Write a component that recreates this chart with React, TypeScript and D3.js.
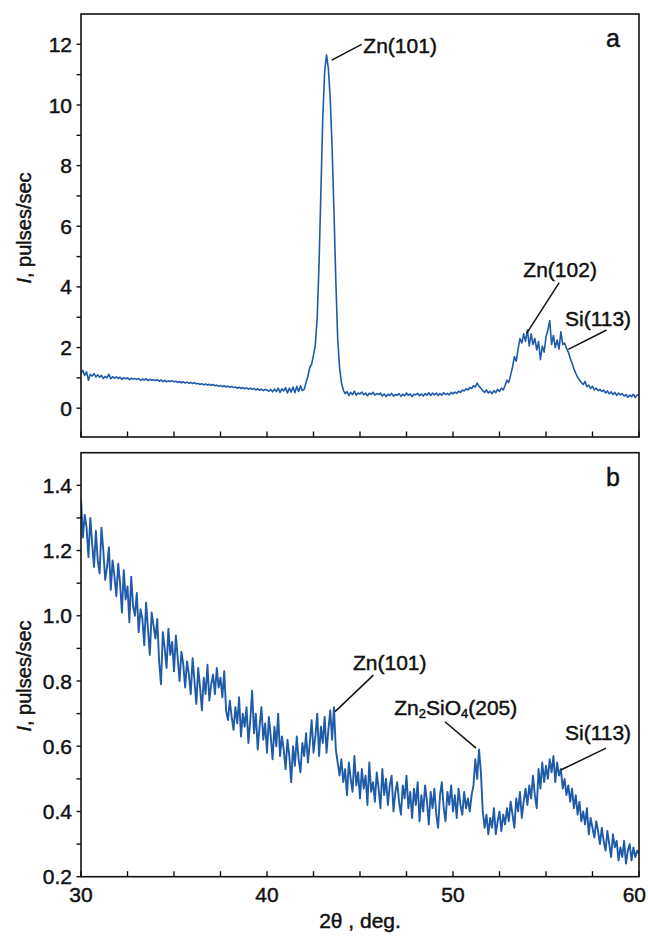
import React from "react";
import * as d3 from "d3";

// XRD patterns, 2θ from 30 to 60 deg, step 0.1
const X_START = 30;
const X_STEP = 0.1;

const panelAValues = [
  1.16, 1.25, 1.08, 1.20, 0.92, 1.12, 1.06, 1.14, 1.03, 1.10,
  1.02, 1.08, 0.98, 1.05, 1.00, 1.12, 0.97, 1.04, 0.99, 1.03,
  0.98, 1.02, 0.95, 1.01, 0.97, 1.00, 0.94, 0.99, 0.96, 0.98,
  0.95, 0.98, 0.92, 0.96, 0.93, 0.97, 0.91, 0.95, 0.92, 0.94,
  0.91, 0.94, 0.89, 0.93, 0.88, 0.92, 0.87, 0.90, 0.88, 0.91,
  0.87, 0.89, 0.85, 0.88, 0.84, 0.87, 0.83, 0.86, 0.82, 0.85,
  0.81, 0.84, 0.80, 0.82, 0.78, 0.81, 0.77, 0.80, 0.76, 0.79,
  0.75, 0.78, 0.74, 0.76, 0.72, 0.75, 0.71, 0.74, 0.70, 0.73,
  0.69, 0.72, 0.68, 0.70, 0.66, 0.69, 0.65, 0.68, 0.64, 0.67,
  0.63, 0.66, 0.62, 0.65, 0.60, 0.64, 0.59, 0.63, 0.58, 0.62,
  0.60, 0.56, 0.62, 0.54, 0.63, 0.55, 0.66, 0.52, 0.64, 0.57,
  0.68, 0.50, 0.66, 0.53, 0.70, 0.51, 0.72, 0.55, 0.74, 0.58,
  0.62, 0.85, 1.05, 1.35, 1.45, 1.75, 2.10, 3.00, 4.80, 7.20,
  9.60, 11.10, 11.65, 11.20, 10.20, 8.60, 6.50, 4.20, 2.30, 1.35,
  0.85, 0.60, 0.48, 0.55, 0.42, 0.52, 0.45, 0.56, 0.43, 0.50,
  0.47, 0.53, 0.44, 0.50, 0.41, 0.49, 0.46, 0.52, 0.43, 0.48,
  0.45, 0.50, 0.40, 0.47, 0.38, 0.46, 0.42, 0.49, 0.40, 0.45,
  0.43, 0.48, 0.39, 0.46, 0.41, 0.50, 0.42, 0.47, 0.38, 0.46,
  0.44, 0.49, 0.41, 0.47, 0.40, 0.48, 0.43, 0.51, 0.42, 0.50,
  0.44, 0.50, 0.42, 0.48, 0.43, 0.51, 0.45, 0.49, 0.44, 0.52,
  0.47, 0.53, 0.49, 0.56, 0.52, 0.60, 0.57, 0.64, 0.60, 0.68,
  0.65, 0.74, 0.70, 0.83, 0.72, 0.66, 0.58, 0.52, 0.60, 0.50,
  0.56, 0.48, 0.58, 0.51, 0.62, 0.55, 0.66, 0.60, 0.75, 0.92,
  0.85, 1.10, 1.35, 1.70, 1.55, 1.95, 2.30, 2.15, 2.45, 2.20,
  2.58, 2.05, 2.45, 2.10, 2.30, 1.92, 2.20, 1.60, 2.05, 1.85,
  2.35, 2.58, 2.89, 2.10, 2.40, 2.00, 2.25, 1.95, 2.52, 2.10,
  2.15, 1.98, 1.85, 1.65, 1.48, 1.30, 1.15, 1.02, 0.93, 0.85,
  0.78, 0.88, 0.71, 0.76, 0.65, 0.72, 0.60, 0.66, 0.58, 0.62,
  0.55, 0.60, 0.50, 0.57, 0.47, 0.54, 0.45, 0.52, 0.42, 0.50,
  0.44, 0.48, 0.40, 0.45, 0.36, 0.43, 0.38, 0.46, 0.35, 0.44,
  0.42,
];

const panelBValues = [
  1.36, 1.24, 1.31, 1.27, 1.18, 1.30, 1.22, 1.15, 1.26, 1.17,
  1.13, 1.27, 1.20, 1.11, 1.15, 1.21, 1.08, 1.17, 1.12, 1.06,
  1.16, 1.10, 1.01, 1.14, 1.05, 1.09, 0.98, 1.12, 1.03, 1.00,
  1.07, 0.95, 1.02, 0.99, 0.91, 1.04, 0.96, 0.88, 1.01, 0.97,
  0.93, 0.99, 0.86, 0.79, 0.95, 0.90, 0.84, 0.96, 0.88, 0.92,
  0.83, 0.94, 0.87, 0.80, 0.89, 0.85, 0.78, 0.86, 0.82, 0.76,
  0.87, 0.80, 0.73, 0.84, 0.78, 0.71, 0.81, 0.76, 0.85, 0.74,
  0.79, 0.82, 0.76, 0.84, 0.78, 0.81, 0.75, 0.83, 0.71, 0.68,
  0.74, 0.69, 0.65, 0.72, 0.67, 0.75, 0.63, 0.70, 0.66, 0.72,
  0.61, 0.68, 0.77, 0.64, 0.70, 0.59, 0.66, 0.72, 0.62, 0.67,
  0.58, 0.69, 0.63, 0.56, 0.66, 0.60, 0.70, 0.57, 0.63, 0.59,
  0.53, 0.62, 0.57, 0.49, 0.60, 0.54, 0.63, 0.56, 0.52, 0.61,
  0.57, 0.64, 0.55, 0.61, 0.68, 0.58, 0.63, 0.70, 0.57, 0.66,
  0.61, 0.69, 0.58, 0.65, 0.71, 0.62, 0.72, 0.59, 0.55, 0.51,
  0.56, 0.49, 0.53, 0.45, 0.55, 0.50, 0.46, 0.57, 0.48, 0.52,
  0.44, 0.53, 0.47, 0.51, 0.42, 0.55, 0.46, 0.49, 0.43, 0.52,
  0.47, 0.41, 0.53, 0.45, 0.50, 0.42, 0.48, 0.51, 0.40, 0.46,
  0.49, 0.43, 0.39, 0.48, 0.44, 0.51, 0.41, 0.46, 0.38, 0.47,
  0.42, 0.49, 0.37, 0.45, 0.40, 0.48, 0.43, 0.36, 0.46, 0.41,
  0.47, 0.39, 0.35, 0.45, 0.49, 0.41, 0.37, 0.46, 0.42, 0.48,
  0.40, 0.45, 0.38, 0.47, 0.42, 0.39, 0.46, 0.41, 0.44, 0.40,
  0.45, 0.48, 0.56, 0.50, 0.59, 0.52, 0.40, 0.35, 0.39, 0.33,
  0.38, 0.35, 0.41, 0.33, 0.37, 0.40, 0.34, 0.39, 0.36, 0.41,
  0.37, 0.43, 0.39, 0.35, 0.44, 0.40, 0.46, 0.38, 0.43, 0.47,
  0.42, 0.48, 0.44, 0.51, 0.45, 0.41, 0.53, 0.47, 0.55, 0.49,
  0.54, 0.50, 0.56, 0.52, 0.57, 0.49, 0.55, 0.51, 0.53, 0.47,
  0.50, 0.45, 0.48, 0.43, 0.47, 0.41, 0.45, 0.39, 0.43, 0.37,
  0.40, 0.36, 0.41, 0.33, 0.38, 0.35, 0.32, 0.37, 0.34, 0.30,
  0.35, 0.31, 0.28, 0.34, 0.30, 0.26, 0.33, 0.29, 0.31, 0.25,
  0.29, 0.26, 0.31, 0.24, 0.28, 0.30, 0.25, 0.29, 0.26, 0.28,
  0.27,
];

const xTickValues = d3.range(30, 60.001, 2.5);
const xLabelValues = [30, 40, 50, 60];
const aMajorTicks = [0, 2, 4, 6, 8, 10, 12];
const aMinorTicks = [1, 3, 5, 7, 9, 11];
const bMajorTicks = [0.2, 0.4, 0.6, 0.8, 1.0, 1.2, 1.4];
const bMinorTicks = [0.3, 0.5, 0.7, 0.9, 1.1, 1.3];

// peak labels: tip / line end / text anchor in data coordinates
const annotationsA = [
  { label: "Zn(101)", tip: [43.48, 11.48], end: [45.09, 12.0], text: [45.18, 11.72], anchor: "start" },
  { label: "Zn(102)", tip: [53.96, 2.47], end: [55.71, 4.14], text: [55.76, 4.33], anchor: "middle" },
  { label: "Si(113)", tip: [56.2, 1.94], end: [58.26, 2.58], text: [56.02, 2.71], anchor: "start" },
];
const annotationsB = [
  { label: "Zn(101)", tip: [43.66, 0.706], end: [45.72, 0.818], text: [46.6, 0.833], anchor: "middle" },
  { label: "Zn2SiO4(205)", tip: [51.24, 0.594], end: [49.57, 0.675], text: [50.15, 0.696], anchor: "middle" },
  { label: "Si(113)", tip: [55.79, 0.527], end: [58.23, 0.594], text: [56.02, 0.619], anchor: "start" },
];

const FONT = "'Liberation Sans', Arial, Helvetica, sans-serif";
const LINE_COLOR = "#1f5ba8";
const INK = "#111";

const left = 81;
const right = 639;

function Label({ text, x, y, anchor }) {
  if (text.startsWith("Zn2SiO4")) {
    return (
      <text x={x} y={y} textAnchor={anchor} fontSize={21}>
        Zn<tspan fontSize={13} dy={3}>2</tspan>
        <tspan dy={-3}>SiO</tspan>
        <tspan fontSize={13} dy={3}>4</tspan>
        <tspan dy={-3}>(205)</tspan>
      </text>
    );
  }
  return (
    <text x={x} y={y} textAnchor={anchor} fontSize={21}>
      {text}
    </text>
  );
}

function Panel({ values, top, bottom, yDomain, majors, minors, fmt, letter, annotations, showX, lineWidth }) {
  const x = d3.scaleLinear().domain([30, 60]).range([left, right]);
  const y = d3.scaleLinear().domain(yDomain).range([bottom, top]);
  const line = d3
    .line()
    .x((d, i) => x(X_START + i * X_STEP))
    .y((d) => y(d));

  return (
    <g fontFamily={FONT} fill={INK} stroke={INK} strokeWidth={0.45}>
      <defs>
        <clipPath id={`clip-${letter}`}>
          <rect x={left} y={top} width={right - left} height={bottom - top} />
        </clipPath>
      </defs>
      <path
        d={line(values)}
        fill="none"
        stroke={LINE_COLOR}
        strokeWidth={lineWidth}
        strokeLinejoin="round"
        clipPath={`url(#clip-${letter})`}
      />
      <rect x={left} y={top} width={right - left} height={bottom - top} fill="none" stroke={INK} strokeWidth={1.6} />

      {/* y ticks, outward */}
      {majors.concat(minors).map((v) => (
        <line key={"t" + v} x1={left - 4.5} x2={left} y1={y(v)} y2={y(v)} stroke={INK} strokeWidth={1.4} />
      ))}
      {majors.map((v) => (
        <text key={"l" + v} x={left - 9} y={y(v)} dy="0.36em" textAnchor="end" fontSize={21}>
          {fmt(v)}
        </text>
      ))}

      {/* x ticks, inward */}
      {xTickValues.map((v) => (
        <line key={"x" + v} x1={x(v)} x2={x(v)} y1={bottom} y2={bottom - 5.5} stroke={INK} strokeWidth={1.4} />
      ))}
      {showX &&
        xLabelValues.map((v, i) => (
          <text
            key={"xl" + v}
            x={i === xLabelValues.length - 1 ? 646 : x(v)}
            y={bottom + 25}
            textAnchor={i === xLabelValues.length - 1 ? "end" : "middle"}
            fontSize={21}
          >
            {v}
          </text>
        ))}

      {annotations.map((a) => (
        <g key={a.label}>
          <line x1={x(a.tip[0])} y1={y(a.tip[1])} x2={x(a.end[0])} y2={y(a.end[1])} stroke={INK} strokeWidth={1.5} />
          <Label text={a.label} x={x(a.text[0])} y={y(a.text[1])} anchor={a.anchor} />
        </g>
      ))}

      <text x={right - 26} y={top + 33} textAnchor="middle" fontSize={25}>
        {letter}
      </text>
    </g>
  );
}

function YTitle({ cx, cy }) {
  return (
    <text
      transform={`translate(${cx},${cy}) rotate(-90)`}
      textAnchor="middle"
      fontSize={20}
      fontFamily={FONT}
      fill={INK}
      stroke={INK}
      strokeWidth={0.45}
    >
      <tspan fontStyle="italic">I</tspan>, pulses/sec
    </text>
  );
}

export default function App() {
  return (
    <svg
      width={648}
      height={936}
      style={{ position: "absolute", left: 0, top: 0, background: "#fff" }}
    >
      <rect width={648} height={936} fill="#fff" />
      <Panel
        values={panelAValues}
        top={14}
        bottom={437}
        yDomain={[-0.95, 13]}
        majors={aMajorTicks}
        minors={aMinorTicks}
        fmt={(v) => String(v)}
        letter="a"
        annotations={annotationsA}
        showX={false}
        lineWidth={1.6}
      />
      <Panel
        values={panelBValues}
        top={452.7}
        bottom={876.7}
        yDomain={[0.2, 1.5]}
        majors={bMajorTicks}
        minors={bMinorTicks}
        fmt={(v) => v.toFixed(1)}
        letter="b"
        annotations={annotationsB}
        showX={true}
        lineWidth={1.9}
      />
      <YTitle cx={31} cy={228} />
      <YTitle cx={31} cy={676} />
      <text
        x={360}
        y={928}
        textAnchor="middle"
        fontSize={21}
        fontFamily={FONT}
        fill={INK}
        stroke={INK}
        strokeWidth={0.45}
      >
        2θ , deg.
      </text>
    </svg>
  );
}
